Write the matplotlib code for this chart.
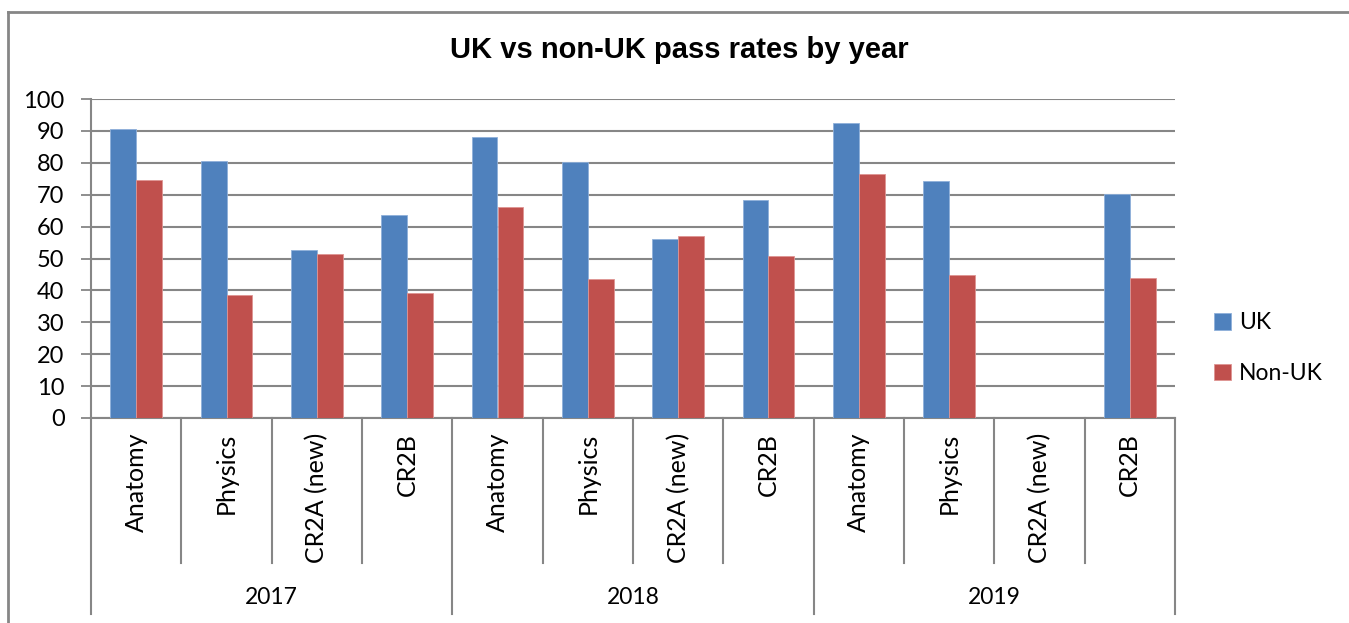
import numpy as np
import matplotlib.pyplot as plt
from matplotlib.lines import Line2D
import matplotlib.transforms as mtransforms

years = ['2017', '2018', '2019']
exams = ['Anatomy', 'Physics', 'CR2A (new)', 'CR2B']
uk = [90.7, 80.7, 52.8, 63.7,
      88.2, 80.2, 56.1, 68.2,
      92.5, 74.3, np.nan, 70.2]
non_uk = [74.5, 38.7, 51.5, 39.1,
          66.3, 43.7, 56.9, 50.7,
          76.5, 44.8, np.nan, 43.9]

blue = '#4F81BD'
red = '#C0504D'
grey = '#868686'
tick_font = 'Lato'

fig = plt.figure(figsize=(13.49, 6.23), dpi=100)
ax = fig.add_axes([91/1349, 1-418/623, (1175-91)/1349, (418-99)/623])

# outer chart frame (only top and left edges are visible in the reference)
fx, fy = 8/1349, 1-12/623
fig.lines.append(Line2D([fx, fx], [0, fy], transform=fig.transFigure, color=grey, lw=2))
fig.lines.append(Line2D([fx, 1], [fy, fy], transform=fig.transFigure, color=grey, lw=2))

x = np.arange(len(uk))
w = 1/3.5  # excel gap width 150%
ax.bar(x - w/2, uk, width=w, color=blue, edgecolor='#8FB0DA', lw=0.6, label='UK', zorder=3)
ax.bar(x + w/2, non_uk, width=w, color=red, edgecolor='#DE9593', lw=0.6, label='Non-UK', zorder=3)

ax.set_xlim(-0.5, len(uk) - 0.5)
ax.set_ylim(0, 100)
ax.set_yticks(range(0, 101, 10))
ax.tick_params(axis='y', direction='out', length=7, width=1.3, color=grey, labelsize=17, pad=12)
for lab in ax.get_yticklabels():
    lab.set_fontfamily(tick_font)
ax.set_xticks([])
ax.yaxis.grid(True, color=grey, lw=1.5, zorder=0)
ax.set_axisbelow(True)
for s in ['top', 'right']:
    ax.spines[s].set_visible(False)
for s in ['left', 'bottom']:
    ax.spines[s].set_color(grey)
    ax.spines[s].set_linewidth(1.5)

# multi-level category axis
trans = mtransforms.blended_transform_factory(ax.transData, ax.transAxes)
inner_depth = -(563-418)/319
outer_depth = -(614-418)/319
n_ex = len(exams)
for k in range(len(uk) + 1):
    xe = k - 0.5
    depth = outer_depth if k % n_ex == 0 else inner_depth
    ax.plot([xe, xe], [0, depth], transform=trans, color=grey, lw=1.5, clip_on=False)

for i in range(len(uk)):
    ax.text(i, -15/319, exams[i % n_ex], transform=trans, rotation=90, ha='center', va='top',
            fontsize=18, family=tick_font)
for j, yr in enumerate(years):
    ax.text(j*n_ex + (n_ex-1)/2, -(597-418)/319, yr, transform=trans, ha='center', va='center',
            fontsize=16.5, family=tick_font)

fig.text(679/1349, 1-50/623, 'UK vs non-UK pass rates by year', ha='center', va='center',
         fontsize=21, fontweight='bold', family='Liberation Sans')

fig.legend(loc='center left', bbox_to_anchor=(1214/1349, 1-348/623), frameon=False,
           prop={'family': tick_font, 'size': 16.5}, handlelength=0.75, handleheight=0.75,
           handletextpad=0.35, labelspacing=1.3, borderpad=0, borderaxespad=0)

plt.savefig('out.png', dpi=100)
